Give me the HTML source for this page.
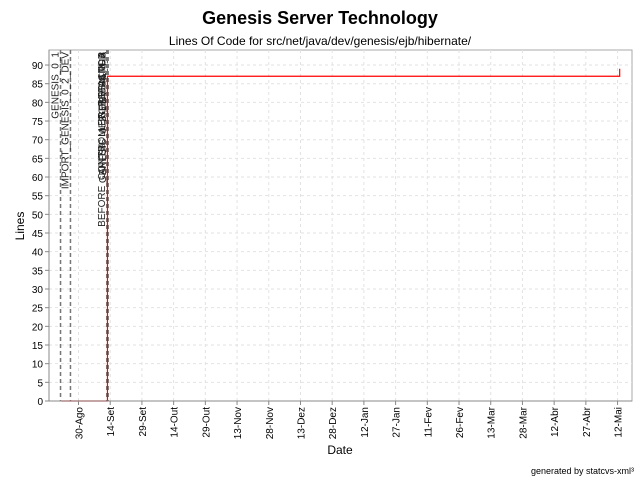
<!DOCTYPE html>
<html><head><meta charset="utf-8"><style>
body{margin:0;background:#fff;width:640px;height:480px;overflow:hidden;font-family:"Liberation Sans",sans-serif}
</style></head><body>
<svg id="c" width="640" height="480" xmlns="http://www.w3.org/2000/svg" font-family="Liberation Sans, sans-serif">
<text x="320" y="24" text-anchor="middle" font-size="18" font-weight="bold">Genesis Server Technology</text>
<text x="320" y="45" text-anchor="middle" font-size="12">Lines Of Code for src/net/java/dev/genesis/ejb/hibernate/</text>
<rect x="49" y="50" width="583" height="351" fill="#fff" stroke="#aaa"/>
<g id="grid"></g><g id="marks"></g><g id="axes"></g>
<text x="24" y="226" transform="rotate(-90 24 226)" text-anchor="middle" font-size="12">Lines</text>
<text x="340" y="454" text-anchor="middle" font-size="12">Date</text>
<text x="634" y="474" text-anchor="end" font-size="9">generated by statcvs-xml³</text>
</svg>
<script>
// data: days relative to 30-Ago
const xTickLabels=["30-Ago","14-Set","29-Set","14-Out","29-Out","13-Nov","28-Nov","13-Dez","28-Dez","12-Jan","27-Jan","11-Fev","26-Fev","13-Mar","28-Mar","12-Abr","27-Abr","12-Mai"];
const xTickDays=[0,15,30,45,60,75,90,105,120,135,150,165,180,195,210,225,240,255];
const yTicks=[0,5,10,15,20,25,30,35,40,45,50,55,60,65,70,75,80,85,90];
const seriesDays=[-8,13.7,13.7,256,256];
const seriesLines=[0,0,87,87,89];
const markerDays=[-8.5,-3.8,13.5,13.6,13.7,13.8,13.9];
const markerLabels=["GENESIS_0_1","IMPORT_GENESIS_0_2_DEV","BEFORE_CONTROLLER_REFACTOR","GENESIS_0_2","AFTER_MERGE_BRANCH","GENESIS_0_3","GENESIS_0_2_DEV_ALPHA"];
const NS="http://www.w3.org/2000/svg";
const X=d=>78.5+d*2.114, Y=v=>401-v*3.733;
function mk(t,a,p){const e=document.createElementNS(NS,t);for(const k in a)e.setAttribute(k,a[k]);p.appendChild(e);return e;}
const grid=document.getElementById('grid'),marks=document.getElementById('marks'),axes=document.getElementById('axes');
yTicks.forEach(v=>{
 const g=mk('line',{x1:49,x2:632,y1:Y(v),y2:Y(v),stroke:'#e2e2e2','stroke-dasharray':'3,3'},grid);
 
 
 const t=mk('line',{x1:45,x2:49,y1:Y(v),y2:Y(v),stroke:'#888'},axes);
 
 
 const l=mk('text',{x:43,y:Y(v)+4,'text-anchor':'end','font-size':10},axes);l.textContent=v;
 
 
});
xTickDays.forEach((d,i)=>{
 const g=mk('line',{x1:X(d),x2:X(d),y1:50,y2:401,stroke:'#e2e2e2','stroke-dasharray':'3,3'},grid);
 
 
 const t=mk('line',{x1:X(d),x2:X(d),y1:401,y2:405,stroke:'#888'},axes);
 
 
 const l=mk('text',{x:X(d)+4,y:407,'text-anchor':'end','font-size':10,transform:`rotate(-90 ${X(d)+4} 407)`},axes);l.textContent=xTickLabels[i];
 
 
});
mk('line',{x1:49,x2:49,y1:50,y2:401,stroke:'#888'},axes);
mk('line',{x1:49,x2:632,y1:401,y2:401,stroke:'#888'},axes);
markerDays.forEach((d,i)=>{
 const m=mk('line',{x1:X(d),x2:X(d),y1:50,y2:401,stroke:'#777','stroke-width':i>=2?2:1.5,'stroke-dasharray':'4,3'},marks);
 
 
 const tx=X(d)-2,ty=52;
 const l=mk('text',{x:tx,y:ty,'text-anchor':'end','font-size':10,fill:'#222',transform:`rotate(-90 ${tx} ${ty})`},marks);l.textContent=markerLabels[i];
 
 
});
const pts=seriesDays.map((d,i)=>X(d)+','+Y(seriesLines[i])).join(' ');
const p=mk('polyline',{points:pts,fill:'none',stroke:'#f00','stroke-width':1.2},marks);


</script>
</body></html>
